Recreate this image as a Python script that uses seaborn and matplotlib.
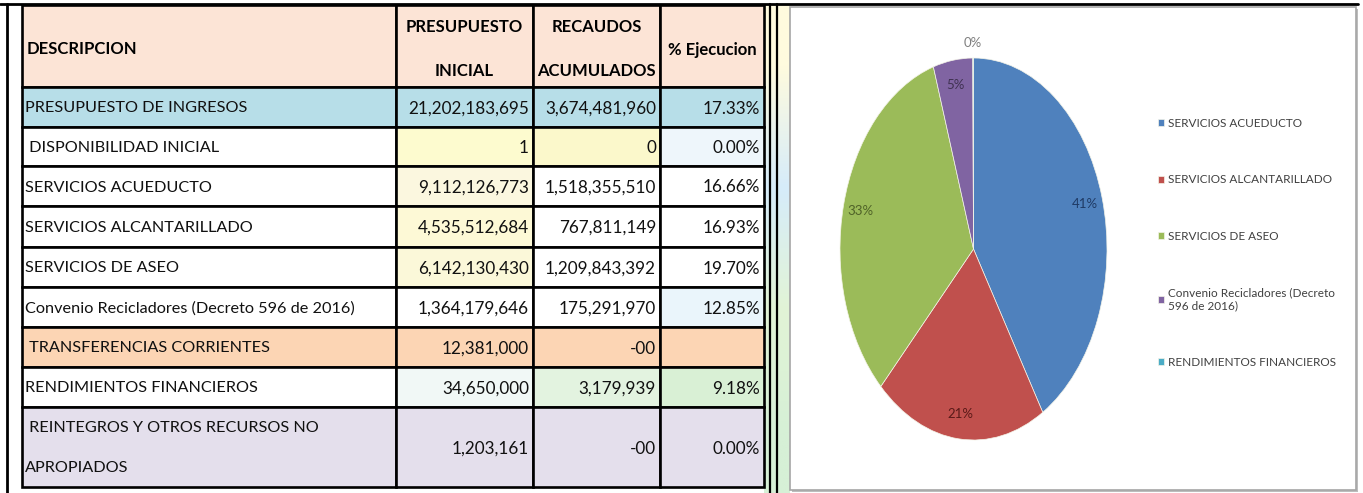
import numpy as np
import pandas as pd
import seaborn as sns
import matplotlib.pyplot as plt
from matplotlib.patches import Rectangle

sns.set_theme(style="white")
plt.rcParams['font.family'] = ['Lato', 'DejaVu Sans']

# table data
headers = ["DESCRIPCION", "PRESUPUESTO\nINICIAL", "RECAUDOS\nACUMULADOS", "% Ejecucion"]
descripcion = [
    "PRESUPUESTO DE INGRESOS",
    " DISPONIBILIDAD INICIAL",
    "SERVICIOS ACUEDUCTO",
    "SERVICIOS ALCANTARILLADO",
    "SERVICIOS DE ASEO",
    "Convenio Recicladores (Decreto 596 de 2016)",
    " TRANSFERENCIAS CORRIENTES",
    "RENDIMIENTOS FINANCIEROS",
    " REINTEGROS Y OTROS RECURSOS NO\nAPROPIADOS",
]
presupuesto_inicial = [21202183695, 1, 9112126773, 4535512684, 6142130430,
                       1364179646, 12381000, 34650000, 1203161]
# None is shown as "-00" in the sheet
recaudos = [3674481960, 0, 1518355510, 767811149, 1209843392,
            175291970, None, 3179939, None]
ejecucion = [17.33, 0.00, 16.66, 16.93, 19.70, 12.85, None, 9.18, 0.00]

# pie data (rows of the table that make up the collected income)
pie_labels = ["SERVICIOS ACUEDUCTO", "SERVICIOS ALCANTARILLADO", "SERVICIOS DE ASEO",
              "Convenio Recicladores (Decreto\n596 de 2016)", "RENDIMIENTOS FINANCIEROS"]
pie_rows = [2, 3, 4, 5, 7]

df = pd.DataFrame({"desc": descripcion, "ppto": presupuesto_inicial,
                   "rec": recaudos, "pct": ejecucion})

W, H = 1363, 493
fig = plt.figure(figsize=(W / 100, H / 100), dpi=100)
bg = fig.add_axes([0, 0, 1, 1])

# pastel strip between the table and the chart
grad = np.array([[[255, 251, 222]], [[214, 236, 250]], [[226, 244, 214]], [[214, 240, 214]]]) / 255
bg.imshow(grad, extent=[764, 790, 493, 5], aspect='auto', interpolation='bilinear', zorder=0)
bg.set_xlim(0, W)
bg.set_ylim(H, 0)
bg.axis('off')

col_x = [22, 396, 533, 660, 764]
row_y = [5, 87, 127, 166, 206, 247, 287, 327, 367, 407, 487]

white = "#ffffff"
cell_colors = [
    ["#fce4d6"] * 4,
    ["#b7dee8"] * 4,
    [white, "#fdfbcf", "#fbf8cb", "#eef6fb"],
    [white, "#fbf7df", white, white],
    [white, "#fdf9d6", white, white],
    [white, "#fbf8d9", white, white],
    [white, white, white, "#eaf5fb"],
    ["#fcd5b4"] * 4,
    [white, "#f1f8f6", "#e3f3e0", "#d9f0d5"],
    ["#e4dfec"] * 4,
]

lw = 1.9
for i in range(len(row_y) - 1):
    for j in range(len(col_x) - 1):
        bg.add_patch(Rectangle((col_x[j], row_y[i]), col_x[j + 1] - col_x[j], row_y[i + 1] - row_y[i],
                               facecolor=cell_colors[i][j], edgecolor='black', lw=lw, zorder=2))


def put_lines(text, x, cy, step, **kw):
    lines = text.split("\n")
    n = len(lines)
    for k, line in enumerate(lines):
        bg.text(x, cy + 1.5 + (k - (n - 1) / 2) * step, line, va='center', zorder=3, **kw)


# header
hy = (row_y[0] + row_y[1]) / 2 + 2
put_lines(headers[0], col_x[0] + 5, hy, 44, ha='left', fontsize=12, fontweight='bold', color='black')
for j in range(1, 4):
    cx = (col_x[j] + col_x[j + 1]) / 2
    put_lines(headers[j], cx, hy, 44, ha='center', fontsize=12, fontweight='bold', color='black')

txt_kw = dict(fontsize=11.7, color='#111111')
num_kw = dict(fontsize=12.3, color='#111111', ha='right')
for i, r in df.iterrows():
    cy = (row_y[i + 1] + row_y[i + 2]) / 2
    put_lines(r["desc"], col_x[0] + 3, cy, 40, ha='left', **txt_kw)
    bg.text(col_x[2] - 4, cy + 1.5, f"{int(r['ppto']):,}", va='center', zorder=3, **num_kw)
    rec = "-00" if pd.isna(r["rec"]) else f"{int(r['rec']):,}"
    bg.text(col_x[3] - 4, cy + 1.5, rec, va='center', zorder=3, **num_kw)
    if not pd.isna(r["pct"]):
        bg.text(col_x[4] - 4, cy + 1.5, f"{r['pct']:.2f}%", va='center', zorder=3, **num_kw)

# frame lines of the page
bg.plot([0, 1358], [4, 4], color='black', lw=2, zorder=4)
bg.plot([7, 7], [4, 493], color='black', lw=2, zorder=4)
bg.plot([770, 770], [4, 493], color='black', lw=1.6, zorder=4)
bg.plot([777, 777], [4, 493], color='black', lw=1.6, zorder=4)

# chart panel
bg.add_patch(Rectangle((792, 9), 566, 483, facecolor='#bdbdbd', edgecolor='none', zorder=1))
bg.add_patch(Rectangle((790, 7), 566, 483, facecolor='white', edgecolor='#a6a6a6', lw=1.2, zorder=1))

pie_colors = ["#4f81bd", "#c0504d", "#9bbb59", "#8064a2", "#4bacc6"]
label_colors = ["#1f3a64", "#5a1a18", "#4f6228", "#3f3151", "#7f7f7f"]
pie_vals = [recaudos[k] for k in pie_rows]

pax = fig.add_axes([840 / W, (H - 440) / H, 267 / W, 382 / H])
wedges, _, autotexts = pax.pie(pie_vals, colors=pie_colors, startangle=90, counterclock=False,
                               autopct='%1.0f%%', pctdistance=0.87, radius=1,
                               wedgeprops=dict(edgecolor='#f4f4e8', linewidth=0.5),
                               textprops=dict(fontsize=9.5))
pax.set_xlim(-1, 1)
pax.set_ylim(-1, 1)
pax.set_aspect('auto')
pax.axis('off')
for t, c in zip(autotexts, label_colors):
    t.set_color(c)
# the tiny slice gets its label outside the pie
tx, ty = autotexts[-1].get_position()
rr = np.hypot(tx, ty)
autotexts[-1].set_position((tx / rr * 1.08, ty / rr * 1.08))

leg = pax.legend(wedges, pie_labels, loc='upper left', bbox_to_anchor=(1158 / W, 1 - 118 / H),
                 bbox_transform=fig.transFigure, frameon=False, fontsize=8.5, labelspacing=3.85,
                 handlelength=0.55, handleheight=0.55, handletextpad=0.3, borderpad=0, borderaxespad=0)
for t in leg.get_texts():
    t.set_color('#404040')

fig.savefig("out.png", dpi=100)
